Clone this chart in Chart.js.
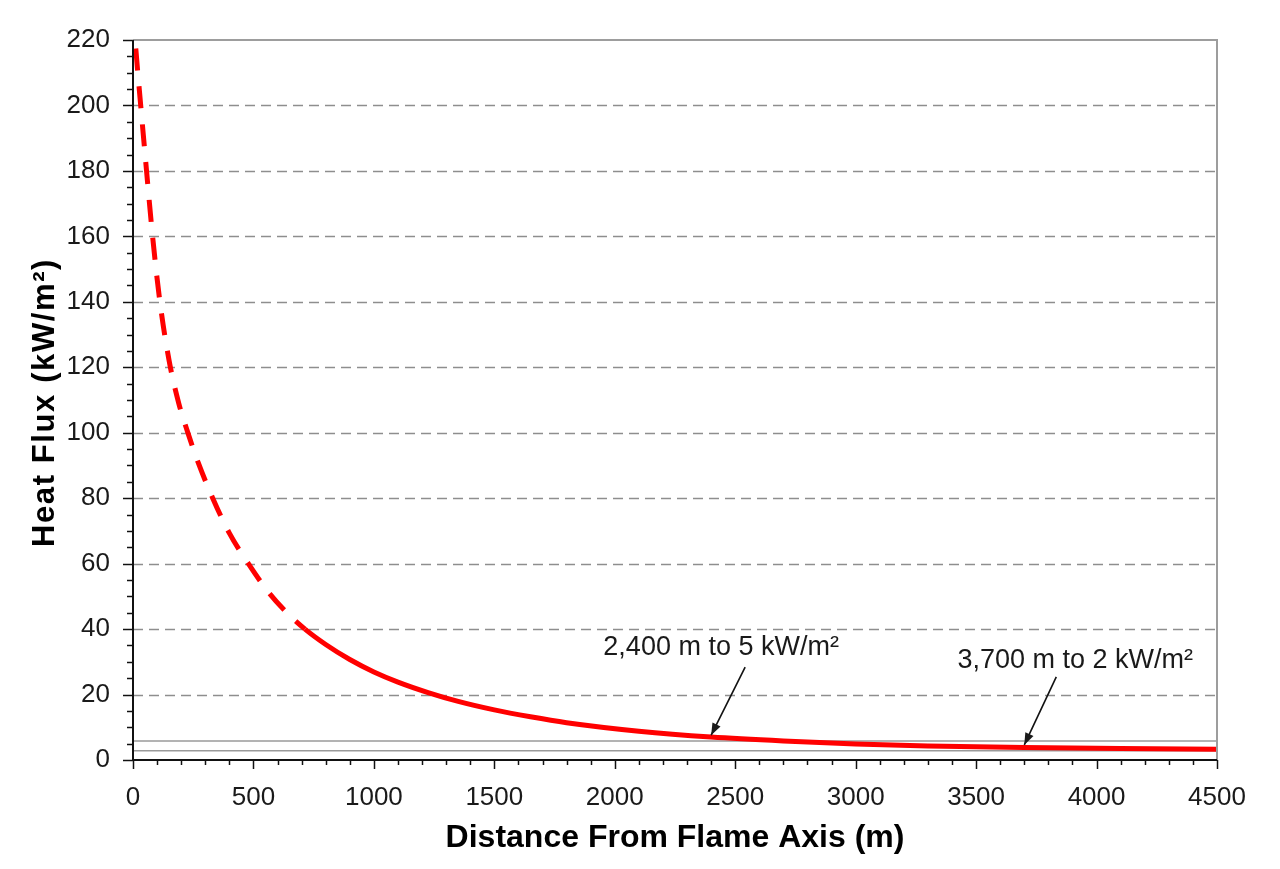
<!DOCTYPE html>
<html>
<head>
<meta charset="utf-8">
<script src="https://cdn.jsdelivr.net/npm/chart.js@4.4.1/dist/chart.umd.min.js"></script>
<style>
  html, body { margin: 0; padding: 0; background: #ffffff; }
  #wrap { width: 1280px; height: 869px; position: relative; }
</style>
</head>
<body>
<div id="wrap"><canvas id="c" width="1280" height="869"></canvas></div>
<script>
// ---- data ----
const distance = [0, 12, 32, 55, 80, 110, 150, 190, 230, 270, 331, 400, 479, 560, 639, 714, 800, 900, 1000, 1100, 1225, 1350, 1500, 1650, 1800, 2100, 2400, 2700, 3000, 3300, 3700, 4100, 4500];
const heatFlux = [229, 217, 200, 181, 161, 141, 122, 109, 99.5, 91, 80, 69.3, 60, 51.5, 45, 40, 35.3, 30.7, 26.9, 23.8, 20.6, 17.9, 15.3, 13.2, 11.4, 8.8, 7.0, 5.8, 4.9, 4.3, 3.8, 3.5, 3.3];
const dashedUntil = 714;              // curve is dashed up to this distance
const refLevels = [5.8, 2.8];         // thin grey horizontal reference lines
const refRange = [0, 4500];
const xTicks = [0, 500, 1000, 1500, 2000, 2500, 3000, 3500, 4000, 4500];
const yTicks = [0, 20, 40, 60, 80, 100, 120, 140, 160, 180, 200, 220];
const annX = [2400, 3700];
const annY = [7.6, 4.6];
const annText = ['2,400 m to 5 kW/m²', '3,700 m to 2 kW/m²'];
const xTitle = 'Distance From Flame Axis (m)';
const yTitle = 'Heat Flux (kW/m²)';

const FONT = '"Liberation Sans", Arial, Helvetica, sans-serif';

const curvePoints = distance.map((d, i) => ({x: d, y: heatFlux[i]}));
const refDatasets = refLevels.map(v => ({
  data: refRange.map(x => ({x: x, y: v})),
  borderColor: '#9a9a9a',
  borderWidth: 1.5,
  pointRadius: 0,
  fill: false,
  clip: 0
}));

function drawArrow(ctx, x1, y1, x2, y2) {
  ctx.beginPath(); ctx.moveTo(x1, y1); ctx.lineTo(x2, y2); ctx.stroke();
  const a = Math.atan2(y2 - y1, x2 - x1), L = 12, W = 4.5;
  ctx.beginPath();
  ctx.moveTo(x2, y2);
  ctx.lineTo(x2 - L * Math.cos(a) + W * Math.sin(a), y2 - L * Math.sin(a) - W * Math.cos(a));
  ctx.lineTo(x2 - L * Math.cos(a) - W * Math.sin(a), y2 - L * Math.sin(a) + W * Math.cos(a));
  ctx.closePath(); ctx.fill();
}

const decor = {
  id: 'decor',
  beforeDatasetsDraw(chart) {
    const {ctx, chartArea: ca, scales: {x, y}} = chart;
    ctx.save();
    ctx.strokeStyle = '#8e8e8e';
    ctx.lineWidth = 1.5;
    ctx.setLineDash([10, 6]);
    yTicks.forEach(v => {
      if (v === yTicks[0] || v === yTicks[yTicks.length - 1]) return;
      const py = Math.round(y.getPixelForValue(v)) + 0.5;
      ctx.beginPath(); ctx.moveTo(ca.left, py); ctx.lineTo(ca.right, py); ctx.stroke();
    });
    ctx.restore();
  },
  afterDatasetsDraw(chart) {
    const {ctx, chartArea: ca, scales: {x, y}} = chart;
    ctx.save();
    // frame top/right grey
    ctx.strokeStyle = '#9d9d9d';
    ctx.lineWidth = 2;
    ctx.beginPath();
    ctx.moveTo(ca.left, ca.top); ctx.lineTo(ca.right, ca.top); ctx.lineTo(ca.right, ca.bottom);
    ctx.stroke();
    // axes black
    ctx.strokeStyle = '#111';
    ctx.lineWidth = 2;
    ctx.beginPath();
    ctx.moveTo(ca.left, ca.top); ctx.lineTo(ca.left, ca.bottom); ctx.lineTo(ca.right, ca.bottom);
    ctx.stroke();
    // y ticks: major every 20, minor every 5
    ctx.lineWidth = 1.5;
    for (let v = y.min; v <= y.max + 0.001; v += 5) {
      const py = Math.round(y.getPixelForValue(v)) + 0.5;
      const len = (v % 20 === 0) ? 10 : 6;
      ctx.beginPath(); ctx.moveTo(ca.left - len, py); ctx.lineTo(ca.left, py); ctx.stroke();
    }
    // x ticks: major every 500, minor every 100
    for (let v = x.min; v <= x.max + 0.001; v += 100) {
      const px = Math.round(x.getPixelForValue(v)) + 0.5;
      const len = (v % 500 === 0) ? 9 : 5;
      ctx.beginPath(); ctx.moveTo(px, ca.bottom); ctx.lineTo(px, ca.bottom + len); ctx.stroke();
    }
    // annotations
    const tailOff = [[34, -68], [32, -68]];
    const textOff = [[10, -80], [51, -77]];
    ctx.fillStyle = '#1a1a1a';
    ctx.strokeStyle = '#111';
    ctx.lineWidth = 1.6;
    ctx.font = '27px ' + FONT;
    ctx.textAlign = 'center';
    ctx.textBaseline = 'alphabetic';
    annX.forEach((ax, i) => {
      const tx = x.getPixelForValue(ax), ty = y.getPixelForValue(annY[i]);
      drawArrow(ctx, tx + tailOff[i][0], ty + tailOff[i][1], tx, ty);
      ctx.fillText(annText[i], tx + textOff[i][0], ty + textOff[i][1]);
    });
    // axis titles
    ctx.fillStyle = '#000';
    ctx.font = 'bold 32px ' + FONT;
    ctx.textAlign = 'center';
    ctx.fillText(xTitle, (ca.left + ca.right) / 2, 847);
    ctx.save();
    ctx.translate(54, 402.5);
    ctx.rotate(-Math.PI / 2);
    ctx.font = 'bold 31px ' + FONT;
    try { ctx.letterSpacing = '1.6px'; } catch (e) {}
    ctx.fillText(yTitle, 0, 0);
    ctx.restore();
    ctx.restore();
  }
};

new Chart(document.getElementById('c'), {
  type: 'line',
  data: {
    datasets: [
      {
        data: curvePoints,
        borderColor: '#ff0000',
        borderWidth: 5,
        pointRadius: 0,
        fill: false,
        cubicInterpolationMode: 'monotone',
        clip: 0,
        borderCapStyle: 'butt',
        segment: {
          borderDash: ctx => (ctx.p1.parsed.x <= dashedUntil ? [22, 16] : undefined)
        }
      },
      ...refDatasets
    ]
  },
  options: {
    responsive: false,
    animation: false,
    events: [],
    layout: { padding: { top: 40, right: 63, left: 0, bottom: 0 } },
    plugins: { legend: { display: false }, tooltip: { enabled: false } },
    scales: {
      x: {
        type: 'linear',
        min: xTicks[0], max: xTicks[xTicks.length - 1],
        afterFit: s => { s.height = 109; },
        afterBuildTicks: s => { s.ticks = xTicks.map(v => ({value: v})); },
        grid: { display: false },
        border: { display: false },
        ticks: {
          autoSkip: false, maxRotation: 0, padding: 14,
          color: '#1a1a1a',
          font: { family: FONT, size: 26 },
          callback: v => String(v)
        }
      },
      y: {
        type: 'linear',
        min: yTicks[0], max: yTicks[yTicks.length - 1],
        afterFit: s => { s.width = 133; },
        afterBuildTicks: s => { s.ticks = yTicks.map(v => ({value: v})); },
        grid: { display: false },
        border: { display: false },
        ticks: {
          autoSkip: false, padding: 15,
          color: '#1a1a1a',
          font: { family: FONT, size: 26 },
          callback: v => String(v)
        }
      }
    }
  },
  plugins: [decor]
});
</script>
</body>
</html>
